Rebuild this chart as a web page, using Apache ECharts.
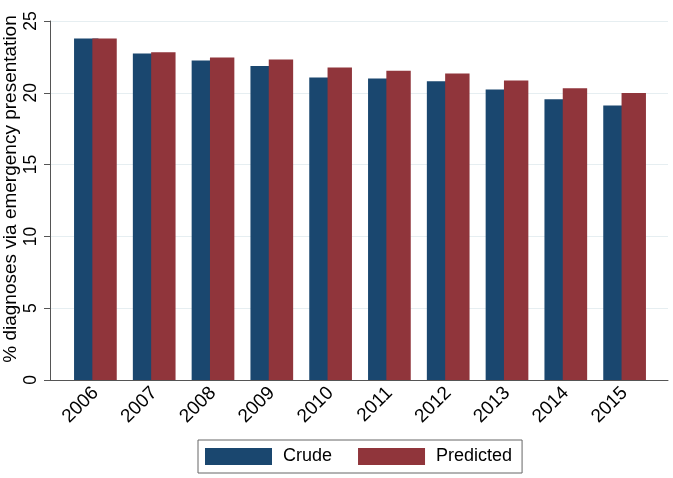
<!DOCTYPE html>
<html>
<head>
<meta charset="utf-8">
<script src="https://cdn.jsdelivr.net/npm/echarts@6/dist/echarts.min.js"></script>
<style>
html,body{margin:0;padding:0;background:#fff;}
#chart{width:673px;height:478px;}
</style>
</head>
<body>
<div id="chart"></div>
<script>
const categories = ['2006','2007','2008','2009','2010','2011','2012','2013','2014','2015'];
const crude = [23.78, 22.73, 22.25, 21.87, 21.06, 20.99, 20.81, 20.23, 19.55, 19.12];
const predicted = [23.78, 22.83, 22.46, 22.32, 21.76, 21.53, 21.34, 20.86, 20.32, 19.99];
const yTicks = [0, 5, 10, 15, 20, 25];
const yTitle = '% diagnoses via emergency presentation';
const seriesNames = ['Crude', 'Predicted'];

const FONT = 'Liberation Sans, Arial, Helvetica, sans-serif';
const chart = echarts.init(document.getElementById('chart'), null, {renderer: 'canvas'});
chart.setOption({
  animation: false,
  backgroundColor: '#ffffff',
  textStyle: {fontFamily: FONT},
  grid: [
    {left: 50, right: 5, top: 21, bottom: 98},
    {left: 66, right: 19, top: 21, bottom: 98}
  ],
  xAxis: [
    {gridIndex: 0, type: 'value', min: 0, max: 1,
     axisLine: {show: true, onZero: false, lineStyle: {color: '#555', width: 1}},
     axisTick: {show: false}, axisLabel: {show: false}, splitLine: {show: false}},
    {gridIndex: 1, type: 'category', data: categories,
     axisLine: {show: false}, axisTick: {show: false},
     axisLabel: {interval: 0, rotate: 45, margin: 10, color: '#000', fontSize: 19, fontFamily: FONT}}
  ],
  yAxis: [
    {gridIndex: 0, type: 'value', min: yTicks[0], max: yTicks[yTicks.length-1], interval: 5,
     axisLine: {show: true, lineStyle: {color: '#555', width: 1}},
     axisTick: {show: true, length: 6, lineStyle: {color: '#555'}},
     axisLabel: {rotate: 90, margin: 10, color: '#000', fontSize: 17.5, fontFamily: FONT},
     splitLine: {show: true, lineStyle: {color: '#e6eef1', width: 1}}},
    {gridIndex: 1, type: 'value', min: 0, max: 25, show: false}
  ],
  legend: {
    data: seriesNames,
    left: 198, top: 440,
    orient: 'horizontal',
    padding: [7, 10, 7, 7],
    itemGap: 26,
    itemWidth: 67, itemHeight: 17,
    borderColor: '#666', borderWidth: 1,
    icon: 'rect',
    textStyle: {fontSize: 18, color: '#000', fontFamily: FONT, padding: [0, 0, 0, 6], lineHeight: 19}
  },
  graphic: [{
    type: 'text',
    x: 11, y: 189,
    rotation: Math.PI / 2,
    style: {text: yTitle, fontSize: 19, fontFamily: FONT, fill: '#000', align: 'center', verticalAlign: 'middle'}
  }],
  series: [
    {name: seriesNames[0], type: 'bar', xAxisIndex: 1, yAxisIndex: 1, data: crude,
     barWidth: 24.4, barGap: '-25%', itemStyle: {color: '#1a476f'}},
    {name: seriesNames[1], type: 'bar', xAxisIndex: 1, yAxisIndex: 1, data: predicted,
     barWidth: 24.4, barGap: '-25%', itemStyle: {color: '#90353b'}}
  ]
});
</script>
</body>
</html>
